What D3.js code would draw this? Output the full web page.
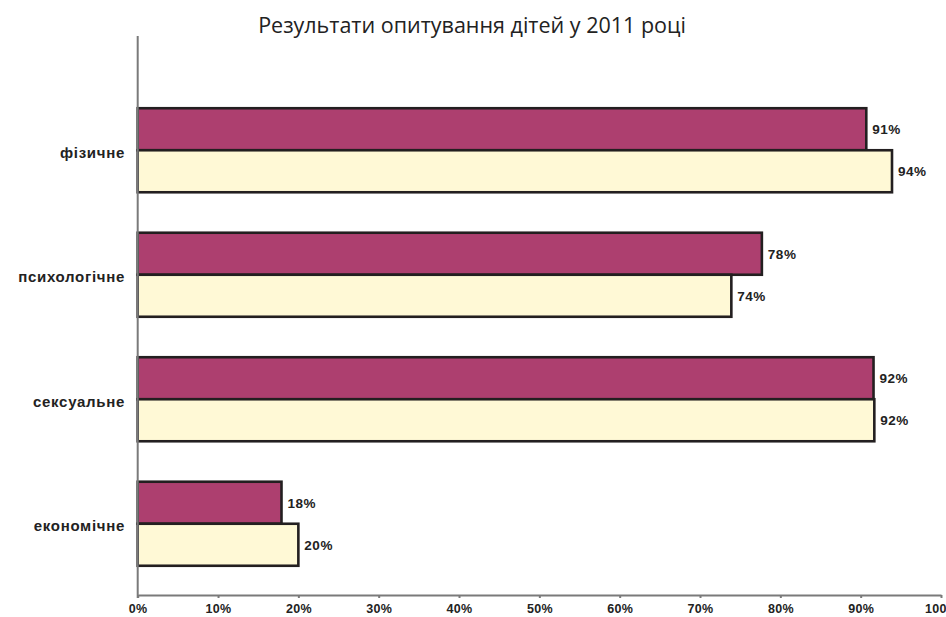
<!DOCTYPE html>
<html><head><meta charset="utf-8">
<script src="https://cdn.jsdelivr.net/npm/d3@7"></script>
<style>body{margin:0;background:#fff}svg{display:block}</style>
</head><body>
<script>
const categories = ["фізичне","психологічне","сексуальне","економічне"];
const series1 = [90.7, 77.7, 91.6, 17.9];
const series2 = [93.9, 73.9, 91.7, 20.0];
const ticks = [0,10,20,30,40,50,60,70,80,90,100];
const title = "Результати опитування дітей у 2011 році";
const colors = ["#AD3F6F", "#FFF9D6"];

const W = 946, H = 617;
const svg = d3.select("body").append("svg").attr("width", W).attr("height", H);

const x = d3.scaleLinear().domain([0,100]).range([137.7, 941]);
const y = d3.scaleBand().domain(categories).range([88, 586]).paddingInner(0.325).paddingOuter(0.1625);
const ys = d3.scaleBand().domain([0,1]).range([0, y.bandwidth()]);
const font = "Arial, 'Liberation Sans', sans-serif";

svg.append("text").attr("x", 472).attr("y", 33).attr("text-anchor","middle")
  .style("font-family","'Open Sans', sans-serif").style("font-size","21.5px").attr("fill","#222").text(title);

const series = [series1, series2];
const g = svg.append("g");
categories.forEach((c,i)=>{
  series.forEach((s,k)=>{
    const y0 = y(c) + ys(k);
    g.append("rect").attr("x", x(0)).attr("y", y0).attr("width", x(s[i]) - x(0)).attr("height", ys.bandwidth())
      .attr("fill", colors[k]).attr("stroke","#231f20").attr("stroke-width",2.6);
    g.append("text").attr("x", x(s[i]) + 6).attr("y", y0 + ys.bandwidth()/2 + 5)
      .style("font-family",font).style("font-weight","bold").style("font-size","13.5px").style("letter-spacing","0.5px")
      .attr("fill","#222").text(Math.round(s[i]) + "%");
  });
  svg.append("text").attr("x", 125).attr("y", y(c) + y.bandwidth()/2 + 7.5).attr("text-anchor","end")
    .style("font-family",font).style("font-weight","bold").style("font-size","15px").style("letter-spacing","0.7px")
    .attr("fill","#222").text(c);
});

// axes
const axisColor = "#7a7a7a";
svg.append("line").attr("x1", x(0)).attr("x2", x(0)).attr("y1", 36).attr("y2", 598).attr("stroke", axisColor).attr("stroke-width", 2);
const xa = svg.append("g").attr("transform","translate(0,595)")
  .call(d3.axisBottom(x).tickValues(ticks).tickSize(3).tickSizeOuter(0).tickFormat(d=>d+"%"));
xa.select(".domain").attr("stroke", axisColor).attr("stroke-width",2);
xa.selectAll(".tick line").attr("stroke", axisColor).attr("stroke-width",2);
xa.selectAll(".tick text").attr("y", 9).attr("dy","0.71em").attr("fill","#222")
  .style("font-family",font).style("font-weight","bold").style("font-size","12.5px").style("letter-spacing","0.3px");
</script>
</body></html>
